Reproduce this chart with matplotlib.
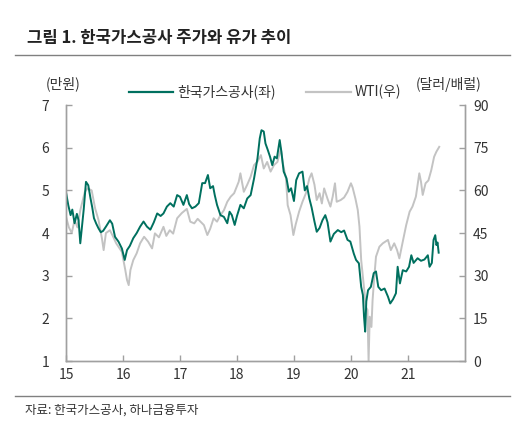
import numpy as np
import matplotlib
matplotlib.use("Agg")
import matplotlib.pyplot as plt

plt.rcParams['font.family'] = ['Noto Sans CJK KR', 'DejaVu Sans']
plt.rcParams['axes.unicode_minus'] = False

# 한국가스공사 주가 (만원), 연도 소수 표기
kogas_t = [2015.00, 2015.04, 2015.08, 2015.11, 2015.15, 2015.19, 2015.22, 2015.25, 2015.28, 2015.31,
           2015.35, 2015.39, 2015.43, 2015.46, 2015.49, 2015.53, 2015.57, 2015.61, 2015.65, 2015.70,
           2015.77, 2015.81, 2015.86, 2015.92, 2015.98, 2016.03, 2016.07, 2016.12, 2016.18, 2016.24,
           2016.30, 2016.36, 2016.42, 2016.48, 2016.54, 2016.60, 2016.66, 2016.71, 2016.77, 2016.83,
           2016.89, 2016.95, 2017.00, 2017.06, 2017.12, 2017.16, 2017.21, 2017.27, 2017.33, 2017.39,
           2017.44, 2017.49, 2017.53, 2017.58, 2017.61, 2017.65, 2017.71, 2017.77, 2017.83, 2017.87,
           2017.91, 2017.96, 2018.00, 2018.06, 2018.12, 2018.18, 2018.24, 2018.30, 2018.36, 2018.40,
           2018.43, 2018.47, 2018.50, 2018.54, 2018.58, 2018.62, 2018.66, 2018.70, 2018.75, 2018.78,
           2018.82, 2018.87, 2018.91, 2018.95, 2019.00, 2019.04, 2019.09, 2019.15, 2019.19, 2019.23,
           2019.27, 2019.31, 2019.36, 2019.40, 2019.45, 2019.50, 2019.55, 2019.59, 2019.64, 2019.70,
           2019.77, 2019.83, 2019.88, 2019.94, 2019.99, 2020.05, 2020.09, 2020.14, 2020.18, 2020.21,
           2020.23, 2020.25, 2020.27, 2020.30, 2020.35, 2020.40, 2020.44, 2020.48, 2020.53, 2020.59,
           2020.65, 2020.69, 2020.74, 2020.79, 2020.82, 2020.86, 2020.91, 2020.97, 2021.02, 2021.06,
           2021.10, 2021.17, 2021.23, 2021.29, 2021.35, 2021.38, 2021.42, 2021.45, 2021.48, 2021.50,
           2021.52, 2021.54]
kogas = [4.95, 4.65, 4.42, 4.55, 4.23, 4.45, 4.30, 3.76, 4.15, 4.55,
         5.20, 5.12, 4.81, 4.60, 4.35, 4.22, 4.11, 4.02, 4.05, 4.15,
         4.30, 4.22, 3.91, 3.80, 3.64, 3.37, 3.60, 3.70, 3.88, 4.00,
         4.15, 4.27, 4.15, 4.08, 4.25, 4.46, 4.40, 4.46, 4.62, 4.70,
         4.62, 4.89, 4.85, 4.66, 4.89, 4.68, 4.58, 4.62, 4.70, 5.17,
         5.17, 5.36, 5.05, 5.10, 4.89, 4.66, 4.42, 4.38, 4.23, 4.50,
         4.42, 4.19, 4.40, 4.66, 4.58, 4.81, 4.89, 5.28, 5.75, 6.22,
         6.41, 6.38, 6.10, 5.95, 5.79, 5.59, 5.79, 5.75, 6.18, 5.90,
         5.44, 5.28, 4.97, 5.05, 4.75, 5.24, 5.40, 5.44, 5.00, 5.10,
         4.81, 4.60, 4.27, 4.03, 4.12, 4.30, 4.42, 4.25, 3.80, 3.98,
         4.07, 4.02, 4.06, 3.84, 3.80, 3.52, 3.37, 3.29, 2.74, 2.55,
         2.04, 1.69, 2.40, 2.66, 2.74, 3.06, 3.10, 2.74, 2.66, 2.70,
         2.51, 2.35, 2.45, 2.59, 3.21, 2.82, 3.13, 3.10, 3.21, 3.48,
         3.30, 3.41, 3.35, 3.38, 3.48, 3.21, 3.30, 3.84, 3.95, 3.72,
         3.78, 3.54]

# WTI (달러/배럴)
wti_t = [2015.00, 2015.05, 2015.10, 2015.15, 2015.20, 2015.25, 2015.33, 2015.38, 2015.45, 2015.51,
         2015.57, 2015.63, 2015.66, 2015.70, 2015.77, 2015.82, 2015.88, 2015.98, 2016.04, 2016.07,
         2016.10, 2016.13, 2016.18, 2016.24, 2016.30, 2016.37, 2016.44, 2016.51, 2016.56, 2016.63,
         2016.71, 2016.76, 2016.82, 2016.88, 2016.95, 2017.03, 2017.12, 2017.18, 2017.25, 2017.31,
         2017.42, 2017.48, 2017.53, 2017.59, 2017.65, 2017.71, 2017.77, 2017.83, 2017.89, 2017.95,
         2018.03, 2018.06, 2018.12, 2018.18, 2018.24, 2018.30, 2018.36, 2018.42, 2018.47, 2018.53,
         2018.59, 2018.65, 2018.71, 2018.77, 2018.80, 2018.86, 2018.89, 2018.94, 2018.99, 2019.03,
         2019.09, 2019.15, 2019.21, 2019.27, 2019.31, 2019.36, 2019.40, 2019.45, 2019.49, 2019.53,
         2019.59, 2019.64, 2019.68, 2019.72, 2019.75, 2019.82, 2019.88, 2019.94, 2020.00, 2020.03,
         2020.08, 2020.12, 2020.15, 2020.18, 2020.21, 2020.24, 2020.26, 2020.29, 2020.31, 2020.33,
         2020.36, 2020.38, 2020.41, 2020.44, 2020.50, 2020.56, 2020.65, 2020.70, 2020.76, 2020.81,
         2020.85, 2020.91, 2020.97, 2021.03, 2021.08, 2021.14, 2021.20, 2021.23, 2021.26, 2021.31,
         2021.36, 2021.41, 2021.46, 2021.50, 2021.55]
wti = [50.7, 47.0, 45.0, 49.6, 47.0, 53.0, 59.5, 60.7, 60.0, 53.7,
       49.6, 43.1, 39.0, 45.0, 46.0, 44.0, 41.4, 38.4, 32.0, 28.5,
       26.7, 32.0, 35.5, 37.9, 41.4, 43.7, 42.0, 39.6, 44.9, 43.5,
       47.2, 44.0, 46.0, 44.8, 50.2, 52.0, 53.5, 49.0, 48.4, 50.0,
       47.8, 44.3, 46.5, 50.2, 49.0, 51.3, 53.0, 56.0, 57.8, 59.0,
       63.0, 66.0, 59.5, 62.0, 64.8, 68.9, 70.1, 72.4, 67.7, 70.0,
       66.6, 68.9, 70.0, 74.8, 70.0, 64.2, 54.8, 51.3, 44.3, 48.0,
       52.5, 56.0, 59.0, 64.2, 66.0, 62.0, 56.6, 59.0, 55.4, 60.7,
       57.0, 54.3, 57.8, 62.5, 56.0, 56.6, 57.5, 59.5, 62.5, 61.0,
       57.0, 53.1, 47.2, 35.5, 29.6, 23.8, 19.1, 18.0, 0.0, 15.6,
       12.0, 21.4, 29.6, 36.7, 40.2, 41.4, 42.6, 39.0, 41.4, 39.0,
       36.1, 42.0, 47.8, 52.5, 54.3, 57.8, 66.0, 63.0, 58.4, 62.5,
       63.5, 67.1, 71.8, 73.6, 75.3]

years = [2015, 2016, 2017, 2018, 2019, 2020, 2021]
year_labels = ['15', '16', '17', '18', '19', '20', '21']

green = '#00705F'
grey = '#C3C3C3'
spine_c = '#A0A0A0'
text_c = '#333333'

fig = plt.figure(figsize=(5.2, 4.34), dpi=100)
ax = fig.add_axes([0.127, 0.168, 0.767, 0.590])
ax2 = ax.twinx()

ax2.plot(wti_t, wti, color=grey, lw=1.4)
ax.plot(kogas_t, kogas, color=green, lw=1.4)
ax.set_zorder(ax2.get_zorder() + 1)
ax.patch.set_visible(False)

ax.set_xlim(2015, 2022)
ax.set_ylim(1, 7)
ax2.set_ylim(0, 90)
ax.set_xticks(years)
ax.set_xticklabels(year_labels)
ax.set_yticks(range(1, 8))
ax2.set_yticks(range(0, 91, 15))

for a in (ax, ax2):
    for s in a.spines.values():
        s.set_color(spine_c)
        s.set_linewidth(1.0)
    a.spines['top'].set_visible(False)
    a.tick_params(direction='in', length=4, width=1, color=spine_c,
                  labelcolor=text_c, labelsize=10)
ax.tick_params(axis='y', pad=12)
ax2.tick_params(axis='y', pad=6)
ax.tick_params(axis='x', pad=5)

fig.text(0.052, 0.912, '그림 1. 한국가스공사 주가와 유가 추이', fontsize=12,
         fontweight='bold', color='#222222', va='center')
fig.add_artist(plt.Line2D([0.029, 0.981], [0.873, 0.873], color='#808080', lw=1.0))
fig.add_artist(plt.Line2D([0.029, 0.981], [0.088, 0.088], color='#808080', lw=1.0))
fig.text(0.048, 0.055, '자료: 한국가스공사, 하나금융투자', fontsize=9, color=text_c, va='center')

fig.text(0.122, 0.806, '(만원)', fontsize=10, color=text_c, ha='center', va='center')
fig.text(0.862, 0.806, '(달러/배럴)', fontsize=10, color=text_c, ha='center', va='center')

h1 = plt.Line2D([], [], color=green, lw=1.6)
h2 = plt.Line2D([], [], color=grey, lw=1.6)
fig.legend([h1, h2], ['한국가스공사(좌)', 'WTI(우)'], loc='center',
           bbox_to_anchor=(0.51, 0.788), ncol=2, frameon=False, fontsize=10,
           handlelength=3.2, handletextpad=0.3, columnspacing=2.2,
           labelcolor=text_c)

fig.savefig('out.png', dpi=100)
